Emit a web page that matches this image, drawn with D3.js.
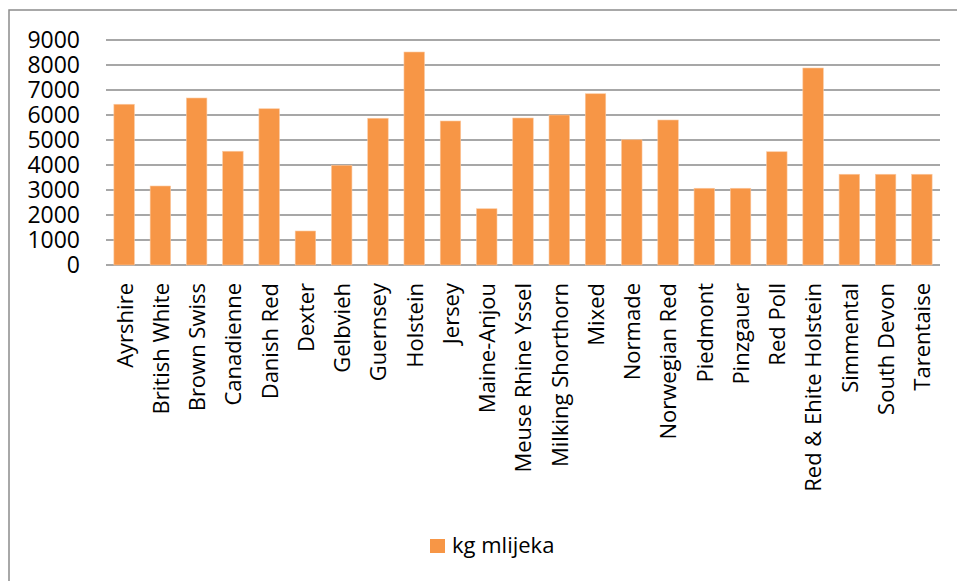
<!DOCTYPE html>
<html>
<head>
<meta charset="utf-8">
<script src="https://cdn.jsdelivr.net/npm/d3@7"></script>
<style>
  body { margin: 0; background: #fff; }
  svg text { font-family: "Open Sans", sans-serif; fill: #000; }
</style>
</head>
<body>
<div id="chart"></div>
<script>
// pasmine krava i kg mlijeka
var breeds = ["Ayrshire", "British White", "Brown Swiss", "Canadienne", "Danish Red", "Dexter",
    "Gelbvieh", "Guernsey", "Holstein", "Jersey", "Maine-Anjou", "Meuse Rhine Yssel",
    "Milking Shorthorn", "Mixed", "Normade", "Norwegian Red", "Piedmont", "Pinzgauer",
    "Red Poll", "Red & Ehite Holstein", "Simmental", "South Devon", "Tarentaise"];
var milk = [6430, 3160, 6680, 4550, 6250, 1360, 3990, 5870, 8520, 5760, 2250, 5880,
    6000, 6850, 5010, 5800, 3070, 3070, 4530, 7880, 3630, 3630, 3630];
var yTicks = [0, 1000, 2000, 3000, 4000, 5000, 6000, 7000, 8000, 9000];
var seriesName = "kg mlijeka";

var W = 957, H = 581;
var plot = {left: 106, right: 940, top: 40, bottom: 265};
var orange = "#f79646";

var svg = d3.select("#chart").append("svg")
    .attr("width", W)
    .attr("height", H);

// okvir grafikona
svg.append("rect")
    .attr("x", 9).attr("y", 10)
    .attr("width", W + 20).attr("height", H + 20)
    .attr("fill", "none")
    .attr("stroke", "#8c8c8c")
    .attr("stroke-width", 1.5);

var x = d3.scaleBand()
    .domain(breeds)
    .range([plot.left, plot.right])
    .paddingInner(0.435)
    .paddingOuter(0.2175);

var y = d3.scaleLinear()
    .domain([0, 9000])
    .range([plot.bottom, plot.top]);

// mreža
svg.append("g")
    .selectAll("line")
    .data(yTicks)
    .enter().append("line")
    .attr("x1", plot.left)
    .attr("x2", plot.right)
    .attr("y1", function(d) { return y(d); })
    .attr("y2", function(d) { return y(d); })
    .attr("stroke", "#8a8a8a")
    .attr("stroke-width", 1.6);

// os y
var yAxis = svg.append("g")
    .attr("transform", "translate(" + plot.left + ",0)")
    .call(d3.axisLeft(y).tickValues(yTicks).tickFormat(d3.format("d")).tickSize(0).tickPadding(26));
yAxis.select(".domain").remove();
yAxis.selectAll("text")
    .style("font-size", "23px")
    .style("font-family", "Open Sans, sans-serif");

// stupci
svg.append("g")
    .selectAll("rect")
    .data(milk)
    .enter().append("rect")
    .attr("x", function(d, i) { return x(breeds[i]); })
    .attr("y", function(d) { return y(d); })
    .attr("width", x.bandwidth())
    .attr("height", function(d) { return y(0) - y(d); })
    .attr("fill", orange)
    .attr("stroke", "#fbc9a0")
    .attr("stroke-width", 0.6);

// os x
var xAxis = svg.append("g")
    .attr("transform", "translate(0," + plot.bottom + ")")
    .call(d3.axisBottom(x).tickSize(0));
xAxis.select(".domain").remove();
xAxis.selectAll("text")
    .style("font-size", "22px")
    .style("font-family", "Open Sans, sans-serif")
    .style("text-anchor", "end")
    .attr("transform", "rotate(-90)")
    .attr("x", -18)
    .attr("y", 0)
    .attr("dy", "0.38em");

// legenda
var legend = svg.append("g");
legend.append("rect")
    .attr("x", 430).attr("y", 539)
    .attr("width", 15).attr("height", 14)
    .attr("fill", orange);
legend.append("text")
    .attr("x", 452).attr("y", 553)
    .style("font-size", "22px")
    .text(seriesName);
</script>
</body>
</html>
